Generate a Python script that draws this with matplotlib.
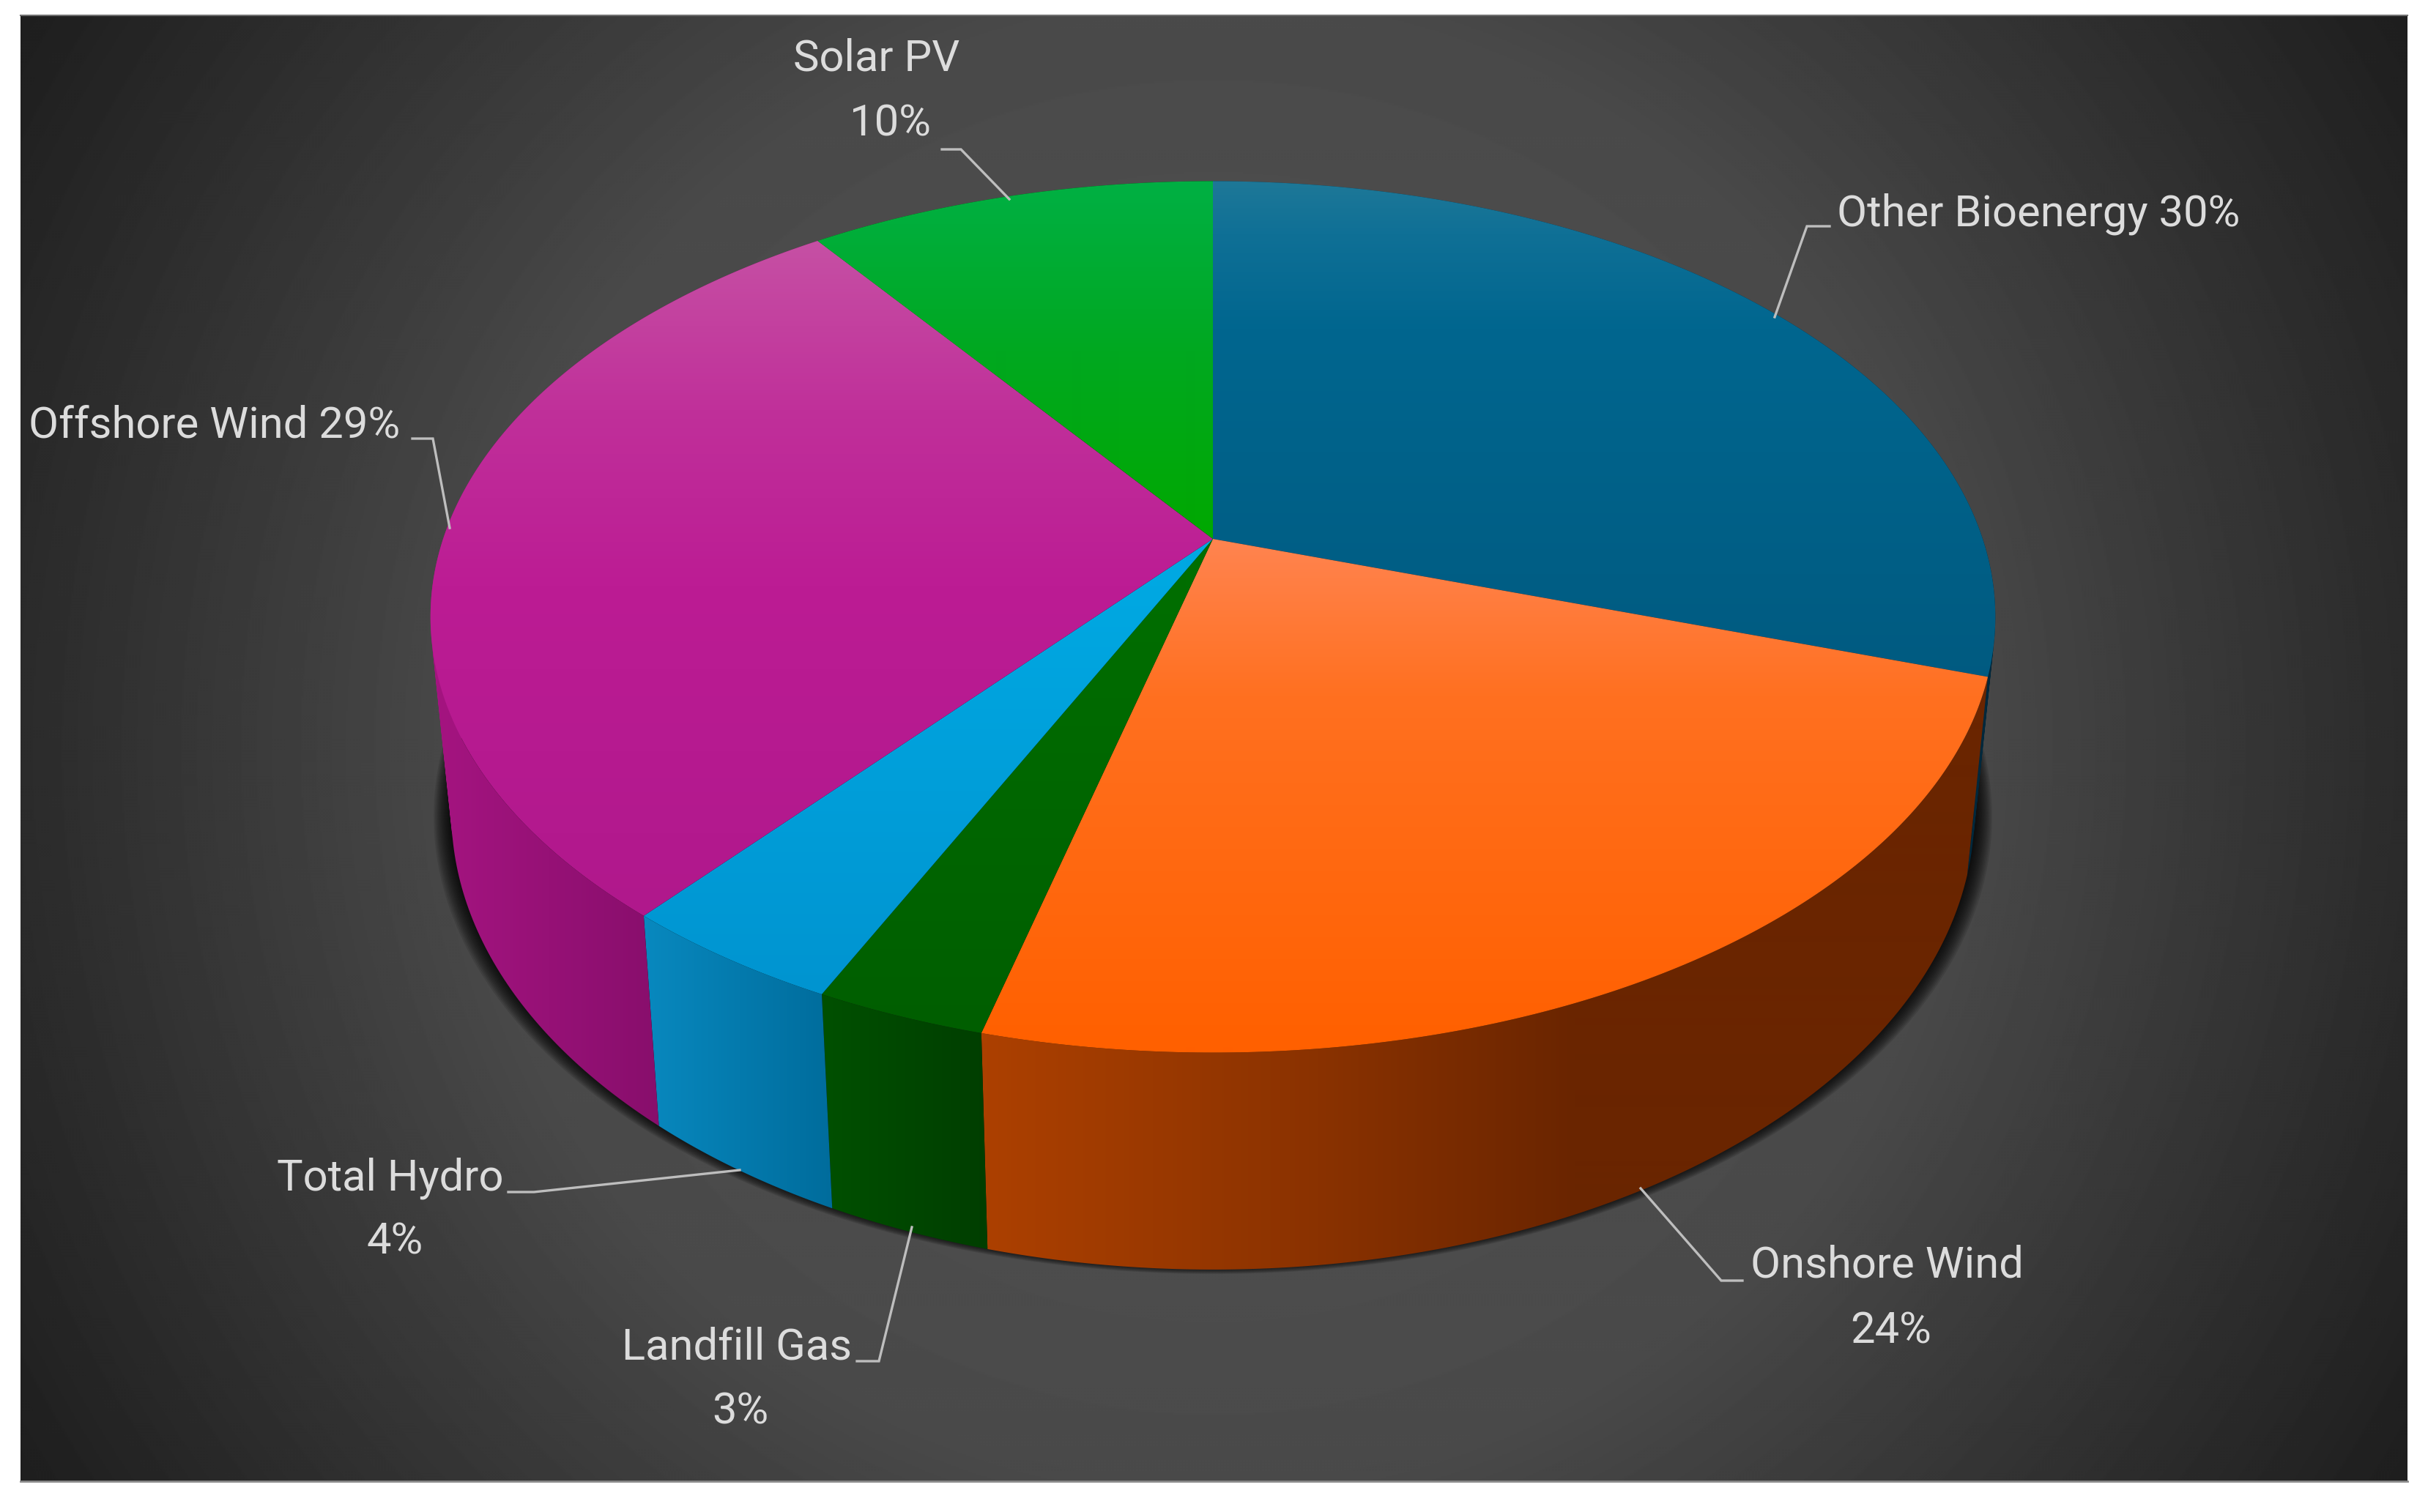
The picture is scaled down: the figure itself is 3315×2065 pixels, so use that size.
import numpy as np
import matplotlib
matplotlib.use("Agg")
import matplotlib.pyplot as plt
from matplotlib.patches import PathPatch, Polygon, Rectangle
from matplotlib.path import Path
from matplotlib.colors import to_rgb

W, H = 3316, 2065

labels = ["Other Bioenergy", "Onshore Wind", "Landfill Gas", "Total Hydro", "Offshore Wind", "Solar PV"]
values = [30, 24, 3, 4, 29, 10]

# vertical gradient of the top faces: (pixel y, colour)
top_stops = [
    [(247, "#1E7898"), (320, "#0F7096"), (450, "#00668F"), (950, "#005A80")],
    [(736, "#FF8450"), (950, "#FF7020"), (1430, "#FF6000")],
    [(800, "#006E00"), (1410, "#005E00")],
    [(800, "#00A8E2"), (1360, "#0094D0")],
    [(330, "#C650A4"), (560, "#C0309A"), (800, "#BC1C94"), (1250, "#B0188C")],
    [(247, "#00B044"), (480, "#00A820"), (736, "#00A800")],
]
# horizontal gradient of the side faces: (pixel x, colour)
side_stops = [
    [(1656, "#003A55"), (2720, "#00283C")],
    [(1348, "#AC4000"), (1800, "#8A3200"), (2150, "#6A2500"), (2720, "#6A2500")],
    [(1124, "#005000"), (1348, "#003E00")],
    [(885, "#0888BE"), (1136, "#006C9C")],
    [(600, "#A41480"), (900, "#880E6C")],
    [(1100, "#006000"), (1656, "#005000")],
]

# perspective of the two rims
CX, CY = 1656, 736
F, G, K = 1051, 576, 0.179
BOT_Y, BOT_F, BOT_G = 997, 1023, 605

plt.rcParams["font.family"] = ["Roboto", "DejaVu Sans"]

fig = plt.figure(figsize=(W / 100, H / 100), dpi=100, facecolor="white")
ax = fig.add_axes([0, 0, 1, 1])
ax.axis("off")


def top_rim(a):
    x, y = np.sin(a), np.cos(a)
    d = 1 + K * y
    return CX + F * x / d, CY - G * y / d


def bot_rim(a):
    x, y = np.sin(a), np.cos(a)
    d = 1 + K * y
    return CX + BOT_F * x / d, BOT_Y - BOT_G * y / d


def gradient(stops, vertical):
    pos = np.arange(H if vertical else W)
    xp = [s[0] for s in stops]
    cols = np.array([to_rgb(s[1]) for s in stops])
    rgb = np.stack([np.interp(pos, xp, cols[:, i]) for i in range(3)], axis=-1)
    if vertical:
        return rgb[:, None, :]
    return rgb[None, :, :]


def fill_patch(patch, stops, vertical, z):
    im = ax.imshow(gradient(stops, vertical), extent=(0, W, H, 0), aspect="auto",
                   zorder=z, interpolation="bilinear")
    ax.add_patch(patch)
    im.set_clip_path(patch)


def wall_patch(a):
    # the wall as ruled quads between the rims, so its outline follows the real silhouette
    tx, ty = top_rim(a)
    bx, by = bot_rim(a)
    verts, codes = [], []
    for j in range(len(a) - 1):
        q = [(tx[j], ty[j]), (tx[j + 1], ty[j + 1]), (bx[j + 1], by[j + 1]), (bx[j], by[j])]
        area = sum(q[n][0] * q[(n + 1) % 4][1] - q[(n + 1) % 4][0] * q[n][1] for n in range(4))
        if area < 0:
            q = q[::-1]
        verts += q + [q[0]]
        codes += [Path.MOVETO, Path.LINETO, Path.LINETO, Path.LINETO, Path.CLOSEPOLY]
    return PathPatch(Path(verts, codes), fc="none", ec="none", transform=ax.transData)


# background
yy, xx = np.mgrid[0:H:2, 0:W:2]
dist = np.hypot(xx - 1656, yy - 1020)
grey = np.interp(dist, [0, 1000, 1200, 1630, 1910], [0x52, 0x4A, 0x40, 0x2B, 0x1E]) / 255
bg = ax.imshow(grey, extent=(0, W, H, 0), aspect="auto", cmap="gray", vmin=0, vmax=1, zorder=0)
panel = Rectangle((28, 20), 3259, 2004, transform=ax.transData, fc="none", ec="none")
ax.add_patch(panel)
bg.set_clip_path(panel)
ax.plot([28, 3287], [21, 21], color="#6E6E6E", lw=1.5, zorder=1)
ax.plot([28, 3287], [2023, 2023], color="#8A8A8A", lw=2, zorder=1)

# soft shadow below the pie
t = np.linspace(0, 2 * np.pi, 400)
sx, sy = bot_rim(t)
for g in np.linspace(24, 2, 12):
    ax.fill(CX + (sx - CX) * (1 + g / 1040), sy + g * 0.5 - 6, color="black", alpha=0.11, lw=0, zorder=2)

edges = np.concatenate([[0], np.cumsum(values)]) / sum(values) * 2 * np.pi

# side faces, back ones first
for i in [0, 5, 4, 1, 2, 3]:
    a = np.linspace(edges[i], edges[i + 1], 160)
    fill_patch(wall_patch(a), side_stops[i], False, 3 + i * 0.01)

# top faces
for i in range(len(values)):
    a = np.linspace(edges[i], edges[i + 1], 200)
    tx, ty = top_rim(a)
    poly = Polygon(np.column_stack([np.r_[CX, tx], np.r_[CY, ty]]), closed=True,
                   fc="none", ec="none", transform=ax.transData)
    fill_patch(poly, top_stops[i], True, 4 + i * 0.01)

# leader lines
LEAD = "#BEBEBE"
leaders = [
    ([2498, 2467, 2423], [309, 309, 433]),
    ([2379, 2350, 2240], [1749, 1749, 1623]),
    ([1170, 1200, 1245], [1859, 1859, 1676]),
    ([694, 729, 1010], [1628, 1628, 1598]),
    ([563, 591, 614], [599, 599, 721]),
    ([1286, 1312, 1378], [204, 204, 272]),
]
for lx, ly in leaders:
    ax.plot(lx, ly, color=LEAD, lw=2.4, zorder=6, solid_joinstyle="miter")

# labels
TXT = "#DCDCDC"
FS = 43
pct = [f"{v}%" for v in values]
ax.text(2508, 292, f"{labels[0]} {pct[0]}", color=TXT, fontsize=FS, ha="left", va="center", zorder=7)
ax.text(546, 581, f"{labels[4]} {pct[4]}", color=TXT, fontsize=FS, ha="right", va="center", zorder=7)
two_line = [(1, 2576, 1728, 2582, 1818), (2, 1006, 1840, 1011, 1928), (3, 533, 1609, 539, 1696), (5, 1197, 80, 1216, 169)]
for i, x1, y1, x2, y2 in two_line:
    ax.text(x1, y1, labels[i], color=TXT, fontsize=FS, ha="center", va="center", zorder=7)
    ax.text(x2, y2, pct[i], color=TXT, fontsize=FS, ha="center", va="center", zorder=7)

ax.set_xlim(0, W)
ax.set_ylim(H, 0)
fig.savefig("out.png", dpi=100, facecolor="white")
